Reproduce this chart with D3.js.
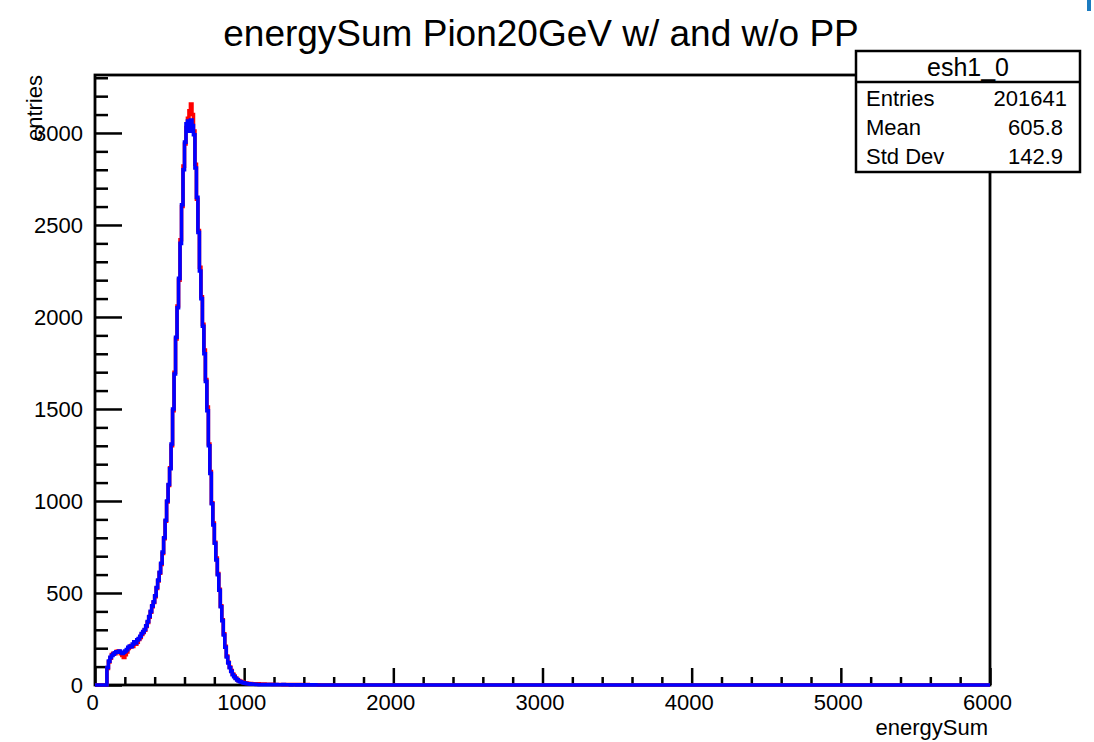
<!DOCTYPE html>
<html><head><meta charset="utf-8">
<script src="https://cdn.jsdelivr.net/npm/d3@7"></script>
<style>
body{margin:0;background:#fff}
svg{display:block}
text{font-family:"Liberation Sans",Arial,Helvetica,sans-serif;fill:#000}
</style>
</head><body>
<svg id="c" width="1094" height="742"></svg>
<script>
// ---- data ----
const binStart = 0;
const binWidth = 10;
const xDomain = [0, 6000];
const yMax = 3315;
const xMajorTicks = [0, 1000, 2000, 3000, 4000, 5000, 6000];
const yMajorTicks = [0, 500, 1000, 1500, 2000, 2500, 3000];
// with PP (blue), bins of 10 from 0 to 1500
const withPP = [
  0,0,0,0,0,0,0,0,
  95,130,150,160,168,175,180,178,185,178,
  172,178,185,192,205,212,208,222,235,228,
  245,252,265,280,290,302,322,345,372,400,
  430,452,485,530,570,612,662,722,800,895,
  1000,1090,1175,1310,1500,1690,1890,2050,2210,2400,
  2610,2800,2950,3050,3065,3010,3070,3040,2990,2810,
  2650,2460,2250,2100,1950,1800,1650,1490,1300,1150,
  985,870,770,680,600,515,425,350,272,205,
  152,120,94,74,56,45,35,28,22,18,
  15,12,10,8,7,6,5,5,4,4,
  3,3,2,2,2,2,2,2,2,1,
  2,1,1,2,1,1,1,1,2,1,
  1,1,1,0,1,1,1,0,1,1,
  0,1,0,1,0,0,1,0,0,1,
  0,0
];
// without PP (red)
const withoutPP = [
  0,0,0,0,0,0,0,0,
  90,125,145,165,172,170,182,185,178,170,
  160,150,165,180,198,205,215,210,225,222,
  232,248,258,275,285,298,318,340,368,395,
  425,448,480,525,565,608,655,715,795,890,
  995,1085,1180,1300,1490,1700,1880,2060,2200,2420,
  2600,2820,2940,3030,3080,3120,3157,3100,3010,2830,
  2640,2470,2270,2110,1960,1820,1660,1510,1310,1160,
  990,880,775,690,605,520,430,355,278,210,
  158,124,98,78,60,48,38,30,24,20,
  17,14,12,10,9,8,8,7,7,6,
  6,6,5,5,5,5,4,4,4,4,
  4,3,3,3,3,3,3,3,2,2,
  2,2,2,2,2,2,2,2,1,1,
  2,1,1,1,2,1,1,1,1,1,
  1,1
];
const statsTitle = "esh1_0";
const statsRows = [["Entries","201641"],["Mean","605.8"],["Std Dev","142.9"]];
const titleText = "energySum Pion20GeV w/ and w/o PP";
const xLabel = "energySum";
const yLabel = "entries";

// ---- layout ----
const L = 95, R = 990, T = 75, B = 685;
const svg = d3.select("#c");
const x = d3.scaleLinear().domain(xDomain).range([L, R]);
const y = d3.scaleLinear().domain([0, yMax]).range([B, T]);

svg.append("defs").append("clipPath").attr("id","clip")
  .append("rect").attr("x",L).attr("y",T).attr("width",R-L).attr("height",B-T+3);

// minor tick values
const xMinor = d3.range(xDomain[0], xDomain[1]+1, 200).filter(v=>v%1000!==0);
const yMinor = d3.range(0, yMax, 100).filter(v=>v%500!==0);

// axes
const ax = svg.append("g").attr("transform",`translate(0,${B})`);
ax.call(d3.axisBottom(x).tickValues(xMajorTicks).tickSize(-17).tickPadding(9).tickFormat(d3.format("d")));
ax.append("g").call(d3.axisBottom(x).tickValues(xMinor).tickSize(-8).tickFormat(""));
ax.selectAll(".domain").remove();
ax.selectAll("line").attr("stroke","#000").attr("stroke-width",2.5);
ax.selectAll("text").attr("font-size",22).attr("fill","#000").attr("dx",-3)
  .style("font-family",'"Liberation Sans",Arial,sans-serif');

const ay = svg.append("g").attr("transform",`translate(${L},0)`);
ay.call(d3.axisLeft(y).tickValues(yMajorTicks).tickSize(-27).tickPadding(12).tickFormat(d3.format("d")));
ay.append("g").call(d3.axisLeft(y).tickValues(yMinor).tickSize(-13).tickFormat(""));
ay.selectAll(".domain").remove();
ay.selectAll("line").attr("stroke","#000").attr("stroke-width",2.5);
ay.selectAll("text").attr("font-size",22).attr("fill","#000")
  .style("font-family",'"Liberation Sans",Arial,sans-serif');

// frame
svg.append("rect").attr("x",L).attr("y",T).attr("width",R-L).attr("height",B-T)
  .attr("fill","none").attr("stroke","#000").attr("stroke-width",2.8);

// histograms (drawn over the frame, like the reference)
function pts(arr){
  const p = arr.map((v,i)=>[binStart+i*binWidth, v]);
  p.push([binStart+arr.length*binWidth, 0]);
  p.push([xDomain[1], 0]);
  return p;
}
const line = d3.line().x(d=>x(d[0])).y(d=>y(d[1])).curve(d3.curveStepAfter);
const g = svg.append("g").attr("clip-path","url(#clip)");
g.append("path").attr("d", line(pts(withoutPP))).attr("fill","none")
  .attr("stroke","#ff0000").attr("stroke-width",3.6);
g.append("path").attr("d", line(pts(withPP))).attr("fill","none")
  .attr("stroke","#0000ff").attr("stroke-width",3.6);

// title
svg.append("text").attr("x",541).attr("y",46).attr("text-anchor","middle")
  .attr("font-size",37).text(titleText);

// axis labels
svg.append("text").attr("x",988).attr("y",735).attr("text-anchor","end")
  .attr("font-size",22).text(xLabel);
svg.append("text").attr("transform","translate(42,75) rotate(-90)").attr("text-anchor","end")
  .attr("font-size",22).text(yLabel);

// stats box
const sb = {x:856, y:51, w:224, h:121, div:82};
svg.append("rect").attr("x",sb.x).attr("y",sb.y).attr("width",sb.w).attr("height",sb.h)
  .attr("fill","#fff").attr("stroke","#000").attr("stroke-width",2.5);
svg.append("line").attr("x1",sb.x).attr("x2",sb.x+sb.w).attr("y1",sb.div).attr("y2",sb.div)
  .attr("stroke","#000").attr("stroke-width",2.5);
svg.append("text").attr("x",sb.x+sb.w/2).attr("y",76).attr("text-anchor","middle")
  .attr("font-size",25).text(statsTitle);
const rowY = [106, 135, 164];
statsRows.forEach((r,i)=>{
  svg.append("text").attr("x",866).attr("y",rowY[i]).attr("font-size",22).text(r[0]);
  svg.append("text").attr("x",i===0?1067:1063).attr("y",rowY[i]).attr("text-anchor","end")
    .attr("font-size",22).text(r[1]);
});

// corner artifact
svg.append("rect").attr("x",1087).attr("y",0).attr("width",4).attr("height",11).attr("fill","#1b7bc0");
</script>
</body></html>
